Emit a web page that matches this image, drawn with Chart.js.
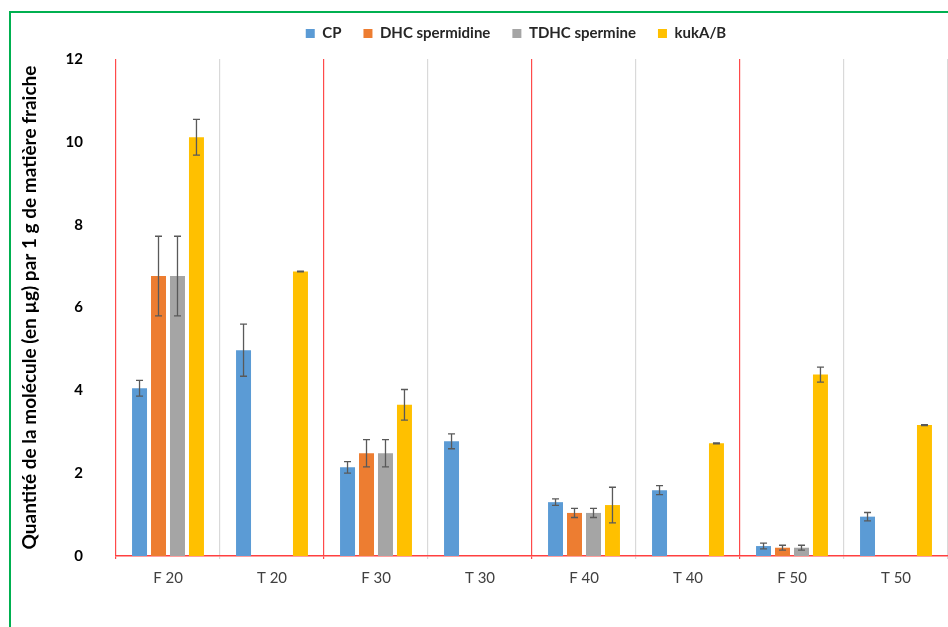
<!DOCTYPE html>
<html>
<head>
<meta charset="utf-8">
<script src="https://cdn.jsdelivr.net/npm/chart.js@4"></script>
<style>
  body { margin: 0; background: #fff; }
  #wrap { position: relative; width: 948px; height: 627px; overflow: hidden; }
  #frame { position: absolute; left: 9px; top: 11px; width: 1000px; height: 700px;
           border-left: 2px solid #00B050; border-top: 2px solid #00B050; }
  #chart { position: absolute; left: 0; top: 0; }
</style>
</head>
<body>
<div id="wrap">
  <div id="frame"></div>
  <canvas id="chart" width="948" height="627"></canvas>
</div>
<script>
// categories and series
const categories = ['F 20', 'T 20', 'F 30', 'T 30', 'F 40', 'T 40', 'F 50', 'T 50'];

const cpValues   = [4.05, 4.97, 2.14, 2.77, 1.30, 1.59, 0.24, 0.95];
const cpErrors   = [0.19, 0.63, 0.14, 0.18, 0.08, 0.11, 0.07, 0.10];

const dhcValues  = [6.76, null, 2.48, null, 1.04, null, 0.20, null];
const dhcErrors  = [0.96, null, 0.33, null, 0.11, null, 0.06, null];

const tdhcValues = [6.76, null, 2.48, null, 1.04, null, 0.20, null];
const tdhcErrors = [0.96, null, 0.33, null, 0.11, null, 0.06, null];

const kukValues  = [10.11, 6.87, 3.65, null, 1.23, 2.72, 4.38, 3.16];
const kukErrors  = [0.43, 0.01, 0.37, null, 0.43, 0.01, 0.18, 0.01];

const yTicks = [0, 2, 4, 6, 8, 10, 12];

// draws the error bars through the y scale
const errorBars = {
    id: 'errorBars',
    afterDatasetsDraw: function (chart) {
        const ctx = chart.ctx;
        const y = chart.scales.y;
        ctx.save();
        ctx.strokeStyle = '#595959';
        ctx.lineWidth = 1.3;
        chart.data.datasets.forEach(function (ds, di) {
            const meta = chart.getDatasetMeta(di);
            ds.errors.forEach(function (e, i) {
                const v = ds.data[i];
                if (v === null || e === null) return;
                const x = meta.data[i].x;
                const top = y.getPixelForValue(v + e);
                const bot = y.getPixelForValue(v - e);
                ctx.beginPath();
                ctx.moveTo(x, top); ctx.lineTo(x, bot);
                ctx.moveTo(x - 3.5, top); ctx.lineTo(x + 3.5, top);
                ctx.moveTo(x - 3.5, bot); ctx.lineTo(x + 3.5, bot);
                ctx.stroke();
            });
        });
        ctx.restore();
    }
};

// more room under the legend, and nudge it a little to the left
const legendPlace = {
    id: 'legendPlace',
    beforeInit: function (chart) {
        const fit = chart.legend.fit;
        chart.legend.fit = function () {
            fit.call(this);
            this.height += 8;
        };
    },
    afterLayout: function (chart) {
        chart.legend.left -= 16;
        chart.legend.right -= 16;
    }
};

const ctx = document.getElementById('chart').getContext('2d');
new Chart(ctx, {
    type: 'bar',
    data: {
        labels: categories,
        datasets: [
            { label: 'CP', data: cpValues, errors: cpErrors, backgroundColor: '#5B9BD5' },
            { label: 'DHC spermidine', data: dhcValues, errors: dhcErrors, backgroundColor: '#ED7D31' },
            { label: 'TDHC spermine', data: tdhcValues, errors: tdhcErrors, backgroundColor: '#A5A5A5' },
            { label: 'kukA/B', data: kukValues, errors: kukErrors, backgroundColor: '#FFC000' }
        ]
    },
    options: {
        responsive: false,
        animation: false,
        categoryPercentage: 0.73,
        barPercentage: 0.79,
        layout: { padding: { left: 12, top: 4, right: 0, bottom: 30 } },
        plugins: {
            tooltip: { enabled: false },
            legend: {
                position: 'top',
                fullSize: false,
                labels: {
                    boxWidth: 9,
                    boxHeight: 9,
                    padding: 22,
                    color: '#262626',
                    font: { family: 'Lato', size: 15, weight: 'bold' }
                }
            }
        },
        scales: {
            x: {
                grid: {
                    color: function (c) { return c.index % 2 === 0 ? '#FF4A4A' : '#D9D9D9'; },
                    lineWidth: 1.2,
                    tickLength: 3
                },
                border: { color: '#FF4040', width: 1.5 },
                ticks: {
                    padding: 10,
                    color: '#404040',
                    font: { family: 'Lato', size: 15 }
                }
            },
            y: {
                min: 0,
                max: 12,
                afterFit: function (scale) { scale.width = 104; },
                afterBuildTicks: function (scale) {
                    scale.ticks = yTicks.map(function (v) { return { value: v }; });
                },
                grid: { display: false, drawTicks: false },
                border: { display: false },
                ticks: {
                    padding: 33,
                    color: '#000',
                    font: { family: 'Lato', size: 15, weight: 'bold' }
                },
                title: {
                    display: true,
                    text: 'Quantité de la molécule (en µg) par 1 g de matière fraiche',
                    color: '#000',
                    padding: { top: 6, bottom: 0 },
                    font: { family: 'Lato', size: 19, weight: 'bold' }
                }
            }
        }
    },
    plugins: [errorBars, legendPlace]
});
</script>
</body>
</html>
